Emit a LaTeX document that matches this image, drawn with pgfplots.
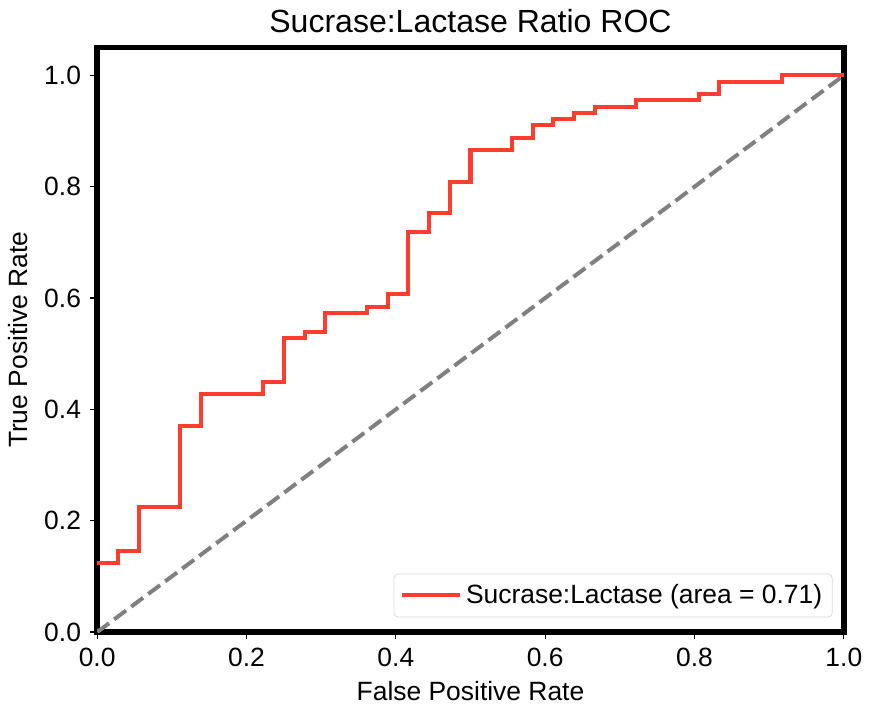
\documentclass[border=0pt]{standalone}
\usepackage{fontspec}
\setmainfont{Liberation Sans}
\usepackage{pgfplots}
\pgfplotsset{compat=1.18}
\definecolor{rocred}{RGB}{255,61,46}
\begin{document}
\fontsize{13.2}{15.5}\selectfont
\begin{tikzpicture}
\begin{axis}[
    width=373pt, height=292pt,
    scale only axis,
    xmin=0, xmax=1, ymin=0, ymax=1.05,
    xtick={0,0.2,0.4,0.6,0.8,1.0},
    ytick={0,0.2,0.4,0.6,0.8,1.0},
    xticklabel style={/pgf/number format/.cd,fixed,fixed zerofill,precision=1},
    yticklabel style={/pgf/number format/.cd,fixed,fixed zerofill,precision=1},
    /pgf/number format/assume math mode=true,
    tick align=outside,
    tick pos=left,
    major tick length=3.5pt,
    tick style={black, line width=0.6pt},
    axis line style={line width=2.8pt},
    title={\fontsize{16}{18}\selectfont Sucrase:Lactase Ratio ROC},
    title style={yshift=-3pt},
    xlabel={False Positive Rate},
    ylabel={True Positive Rate},
    xlabel style={yshift=2pt},
    ylabel style={yshift=-1pt},
    legend style={at={(rel axis cs:0.985,0.025)}, anchor=south east,
        draw=black!15, rounded corners=2pt, inner sep=3pt,
        font=\fontsize{13.2}{15.5}\selectfont},
    legend cell align=left,
    legend image code/.code={\draw[#1] (0pt,0pt) -- (29pt,0pt);},
]
\addplot[rocred, line width=2pt, line join=miter] coordinates {
(0,0.1236)
(0.0278,0.1236) (0.0278,0.1461)
(0.0556,0.1461) (0.0556,0.2247)
(0.1111,0.2247) (0.1111,0.3708)
(0.1389,0.3708) (0.1389,0.4270)
(0.2222,0.4270) (0.2222,0.4494)
(0.2500,0.4494) (0.2500,0.5281)
(0.2778,0.5281) (0.2778,0.5393)
(0.3056,0.5393) (0.3056,0.5730)
(0.3611,0.5730) (0.3611,0.5843)
(0.3889,0.5843) (0.3889,0.6067)
(0.4167,0.6067) (0.4167,0.7191)
(0.4444,0.7191) (0.4444,0.7528)
(0.4722,0.7528) (0.4722,0.8090)
(0.5000,0.8090) (0.5000,0.8652)
(0.5556,0.8652) (0.5556,0.8876)
(0.5833,0.8876) (0.5833,0.9101)
(0.6111,0.9101) (0.6111,0.9213)
(0.6389,0.9213) (0.6389,0.9326)
(0.6667,0.9326) (0.6667,0.9438)
(0.7222,0.9438) (0.7222,0.9551)
(0.8056,0.9551) (0.8056,0.9663)
(0.8333,0.9663) (0.8333,0.9888)
(0.9167,0.9888) (0.9167,1.0)
(1.0,1.0)
};
\addlegendentry{Sucrase:Lactase (area = 0.71)}
\addplot[gray, line width=2pt, dash pattern=on 7.4pt off 3.2pt, forget plot] coordinates {(0,0) (1,1)};
\end{axis}
\end{tikzpicture}
\end{document}
